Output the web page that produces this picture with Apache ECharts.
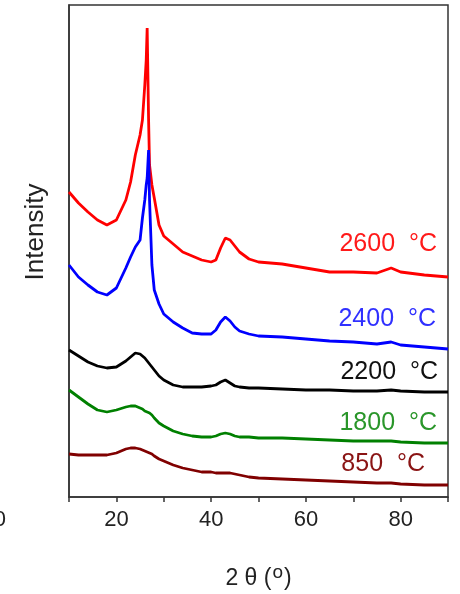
<!DOCTYPE html>
<html>
<head>
<meta charset="utf-8">
<script src="https://cdn.jsdelivr.net/npm/echarts@6/dist/echarts.min.js"></script>
<style>
  html, body { margin: 0; padding: 0; background: #fff; }
  #chart { width: 460px; height: 594px; }
</style>
</head>
<body>
<div id="chart"></div>
<script>
// 2 theta positions (degrees)
var twoTheta = [10, 12, 14, 16, 18, 20, 22, 23, 24, 25, 25.5, 26, 26.3, 26.5, 26.8, 27, 27.5, 28, 29, 30,
  32, 34, 36, 38, 40, 41, 42, 43, 44, 45, 46, 48, 50, 55, 60, 65, 70, 75, 78, 80, 85, 90];

// intensities (a.u., curves already offset as in the figure)
var i2600 = [305, 294, 285, 277, 272, 277, 297, 315, 342, 362, 377, 412, 437, 469, 377, 332, 312, 299, 272, 261,
  253, 245, 241, 237, 235, 237, 249, 259, 257, 251, 245, 238, 235, 233, 229, 225, 225, 224, 229, 225, 222, 220];
var i2400 = [232, 220, 212, 205, 202, 209, 229, 240, 250, 257, 279, 297, 312, 319, 347, 297, 232, 207, 193, 183,
  175, 169, 164, 163, 163, 167, 175, 180, 176, 170, 166, 163, 161, 160, 158, 156, 155, 153, 155, 152, 150, 148];
var i2200 = [147, 141, 135, 131, 129, 130, 136, 140, 144, 143, 141, 139, 137, 136, 134, 133, 130, 127, 121, 117,
  112, 110, 110, 110, 111, 112, 115, 117, 114, 111, 110, 109, 109, 108, 107, 107, 106, 106, 107, 106, 105, 105];
var i1800 = [107, 100, 93, 87, 85, 87, 90, 91, 91, 89, 88, 86, 86, 85, 85, 84, 82, 79, 74, 71,
  66, 63, 61, 60, 60, 61, 63, 64, 63, 61, 60, 60, 59, 59, 58, 57, 56, 56, 56, 55, 54, 54];
var i850 = [43, 42, 42, 42, 42, 44, 48, 49, 49, 48, 47, 46, 45, 45, 45, 44, 43, 41, 38, 36,
  32, 29, 27, 25, 25, 24, 24, 24, 24, 23, 22, 20, 19, 18, 17, 16, 15, 14, 14, 13, 12, 12];

var seriesNames = ['2600  °C', '2400  °C', '2200  °C', '1800  °C', '850  °C'];
var seriesData = [i2600, i2400, i2200, i1800, i850];
var lineColors = ['#ff0000', '#0000ff', '#000000', '#008000', '#800000'];
var labelColors = ['#ff1a1a', '#3030ff', '#111111', '#2a962a', '#8a1414'];
var xTickLabels = [20, 40, 60, 80];

var myChart = echarts.init(document.getElementById('chart'));

var series = seriesData.map(function (vals, k) {
  return {
    name: seriesNames[k],
    type: 'line',
    data: twoTheta.map(function (x, i) { return [x, vals[i]]; }),
    showSymbol: false,
    clip: true,
    lineStyle: { color: lineColors[k], width: 2.8 },
    itemStyle: { color: lineColors[k] },
    z: 10 + k
  };
});

// curve labels (right aligned)
var labelPos = [[437, 244], [436, 319], [438, 372], [437, 423], [425, 464]];
var graphics = seriesNames.map(function (n, k) {
  return {
    type: 'text',
    x: labelPos[k][0],
    y: labelPos[k][1],
    style: {
      text: n,
      fill: labelColors[k],
      font: '25px "Liberation Sans", Arial, sans-serif',
      align: 'right', verticalAlign: 'middle',
      textAlign: 'right', textVerticalAlign: 'middle'
    },
    z: 100
  };
});
// y axis title, sits above the middle of the axis
graphics.push({
  type: 'text', x: 36, y: 232, rotation: Math.PI / 2,
  style: {
    text: 'Intensity', fill: '#222', font: '26px "Liberation Sans", Arial, sans-serif',
    align: 'center', verticalAlign: 'middle', textAlign: 'center', textVerticalAlign: 'middle'
  }
});
// clipped tick label at the far left of the picture
graphics.push({
  type: 'text', x: 6, y: 520,
  style: {
    text: '0', fill: '#222', font: '22px "Liberation Sans", Arial, sans-serif',
    align: 'right', verticalAlign: 'middle', textAlign: 'right', textVerticalAlign: 'middle'
  }
});

var option = {
  animation: false,
  backgroundColor: '#fff',
  grid: {
    left: 69, right: 12, top: 5, bottom: 97,
    outerBoundsMode: 'none',
    show: true, borderColor: '#333', borderWidth: 1.5, backgroundColor: 'transparent'
  },
  xAxis: {
    type: 'value',
    min: 10, max: 90, interval: 10,
    name: '{a|2 θ (}{b|o}{a|)}',
    nameLocation: 'middle',
    nameGap: 68,
    nameTextStyle: {
      rich: {
        a: { fontSize: 23, color: '#222', fontFamily: 'Liberation Sans', lineHeight: 28 },
        b: { fontSize: 19, color: '#222', fontFamily: 'Liberation Sans', lineHeight: 28, padding: [0, 1, 12, 1] }
      }
    },
    axisLine: { show: true, lineStyle: { color: '#333', width: 1.5 } },
    axisTick: { show: true, inside: false, length: 5, lineStyle: { color: '#333', width: 1.5 } },
    axisLabel: {
      fontSize: 22, color: '#222', fontFamily: 'Liberation Sans', margin: 12,
      formatter: function (v) { return xTickLabels.indexOf(v) >= 0 ? String(v) : ''; }
    },
    splitLine: { show: false }
  },
  yAxis: {
    type: 'value',
    min: 0, max: 492,
    axisLine: { show: true, lineStyle: { color: '#333', width: 1.5 } },
    axisTick: { show: false },
    axisLabel: { show: false },
    splitLine: { show: false }
  },
  graphic: graphics,
  series: series
};

myChart.setOption(option);
window.onresize = myChart.resize;
</script>
</body>
</html>
